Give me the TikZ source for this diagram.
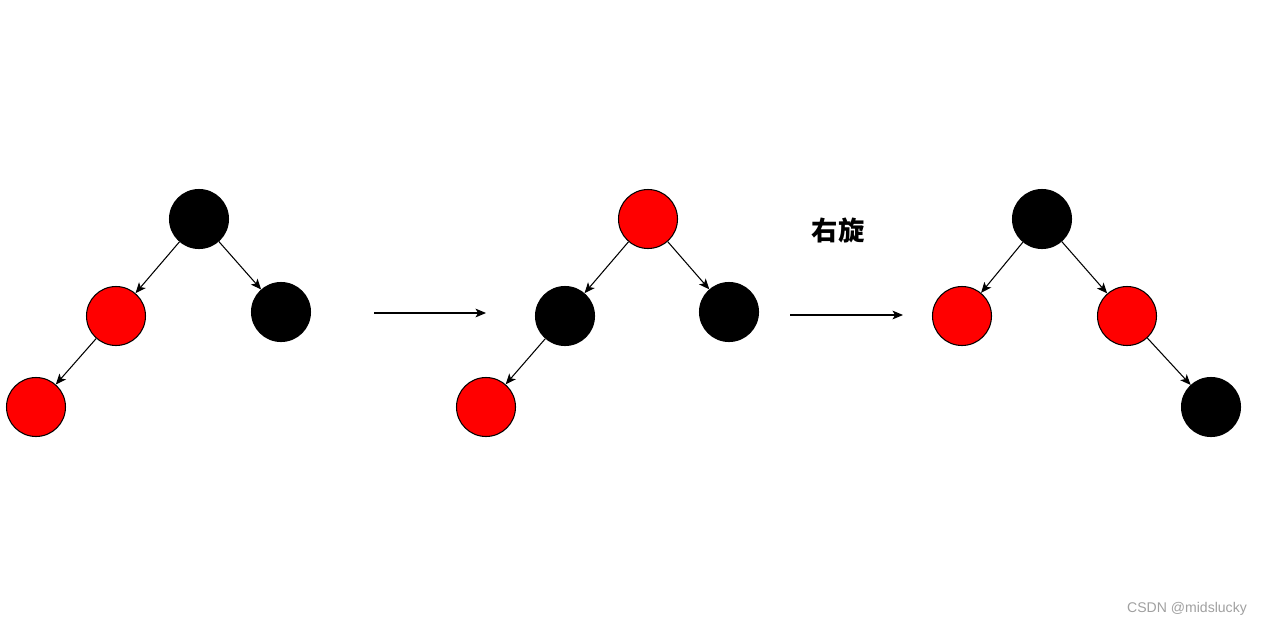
\documentclass[tikz,border=0pt]{standalone}
\usepackage{fontspec}
\newfontfamily\cjk{Noto Sans CJK SC}
\newfontfamily\wmfont{Liberation Sans}
\usetikzlibrary{arrows.meta,positioning,calc}
\definecolor{rbred}{RGB}{255,0,0}
\definecolor{wmgray}{RGB}{160,160,160}

\begin{document}
\begin{tikzpicture}[->,>={Stealth[length=6pt,width=5pt,inset=1.5pt]},x=0.02cm,y=-0.02cm,
 rnode/.style={circle, draw, fill=rbred, inner sep=0pt, minimum size=1.18cm},
 bnode/.style={circle, draw, fill=black, inner sep=0pt, minimum size=1.18cm},
 line width=0.6pt]
 \useasboundingbox (0,0) rectangle (1262,626);
 % before
 \node[bnode] (a1) at (199,219) {};
 \node[rnode] (a2) at (116,316) {};
 \node[bnode] (a3) at (281,312) {};
 \node[rnode] (a4) at (36,407) {};
 \path (a1) edge (a2);
 \path (a1) edge (a3);
 \path (a2) edge (a4);
 % recolor
 \node[rnode] (b1) at (648,219) {};
 \node[bnode] (b2) at (565,316) {};
 \node[bnode] (b3) at (729,312) {};
 \node[rnode] (b4) at (486,407) {};
 \path (b1) edge (b2);
 \path (b1) edge (b3);
 \path (b2) edge (b4);
 % after rotation
 \node[bnode] (c1) at (1042,219) {};
 \node[rnode] (c2) at (962,316) {};
 \node[rnode] (c3) at (1127,316) {};
 \node[bnode] (c4) at (1211,407) {};
 \path (c1) edge (c2);
 \path (c1) edge (c3);
 \path (c3) edge (c4);
 % steps
 \coordinate (s1a) at (374,313);
 \coordinate (s1b) at (486,313);
 \coordinate (s2a) at (790,315);
 \coordinate (s2b) at (903,315);
 \draw (s1a) -- (s1b);
 \draw (s2a) -- (s2b);
 \node (rot) at (838,230) {\cjk\bfseries\fontsize{15}{18}\selectfont 右旋};
 \node[text=wmgray] (wm) at (1187,609) {\wmfont\fontsize{8}{10}\selectfont CSDN @midslucky};
\end{tikzpicture}
\end{document}
